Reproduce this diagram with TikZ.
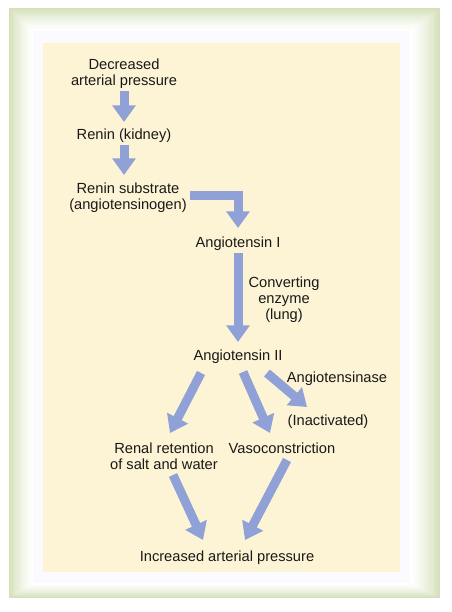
\documentclass[tikz,border=0pt]{standalone}
\usepackage{fontspec}
\setmainfont{Liberation Sans}
\usetikzlibrary{arrows.meta}
\definecolor{frameg}{RGB}{212,224,186}
\definecolor{beige}{RGB}{253,243,213}
\definecolor{arr}{RGB}{143,161,214}
\begin{document}
\begin{tikzpicture}[x=0.75pt,y=-0.75pt,
  lbl/.style={font=\fontsize{11}{12}\selectfont, align=center, inner sep=0pt, text=black!90, yshift=-1.8pt},
  bigarrow/.style={draw=arr, line width=6.75pt, line join=miter, -{Triangle[width=17pt,length=12.5pt]}}]
\useasboundingbox (0,0) rectangle (451,612);
\fill[white] (0,0) rectangle (451,612);
\foreach \i in {0,...,20}{
  \pgfmathsetmacro\t{\i/20}
  \pgfmathtruncatemacro\p{100*(1-\t)^1.4}
  \fill[frameg!\p!white] ({9+24*\t},{8+23*\t}) rectangle ({440-30*\t},{598-15*\t});
}
\fill[white!98!blue] (33,31) rectangle (410,583);
\fill[beige] (43,43) rectangle (400,572);

\node[lbl] (dec) at (124,71) {Decreased\\arterial pressure};
\node[lbl] (ren) at (124,133) {Renin (kidney)};
\node[lbl] (rs) at (128,195) {Renin substrate\\(angiotensinogen)};
\node[lbl] (a1) at (238,241) {Angiotensin I};
\node[lbl] (ce) at (284,297) {Converting\\enzyme\\(lung)};
\node[lbl] (a2) at (238,354) {Angiotensin II};
\node[lbl] (ase) at (337,376) {Angiotensinase};
\node[lbl] (inact) at (328,419) {(Inactivated)};
\node[lbl] (rr) at (164,454) {Renal retention\\of salt and water};
\node[lbl] (vc) at (282,446) {Vasoconstriction};
\node[lbl] (inc) at (227,555) {Increased arterial pressure};

\draw[bigarrow] ([shift={(0,17.6)}]dec.center) -- ([shift={(0,-13.4)}]ren.center);
\draw[bigarrow] ([shift={(0,9.6)}]ren.center) -- ([shift={(-4,-22.4)}]rs.center);
\draw[bigarrow] ([shift={(62,-2.4)}]rs.center) -| ([shift={(0,-15.4)}]a1.center);
\draw[bigarrow] ([shift={(0,9.6)}]a1.center) -- ([shift={(0,-14.4)}]a2.center);
\draw[bigarrow] ([shift={(-37,16.6)}]a2.center) -- ([shift={(6,-23.4)}]rr.center);
\draw[bigarrow] ([shift={(5,15.6)}]a2.center) -- ([shift={(-12,-15.4)}]vc.center);
\draw[bigarrow] ([shift={(29,16.6)}]a2.center) -- ([shift={(-21,-14.4)}]inact.center);
\draw[bigarrow] ([shift={(9,18.6)}]rr.center) -- ([shift={(-24,-17.4)}]inc.center);
\draw[bigarrow] ([shift={(5,11.6)}]vc.center) -- ([shift={(18,-17.4)}]inc.center);
\end{tikzpicture}
\end{document}
